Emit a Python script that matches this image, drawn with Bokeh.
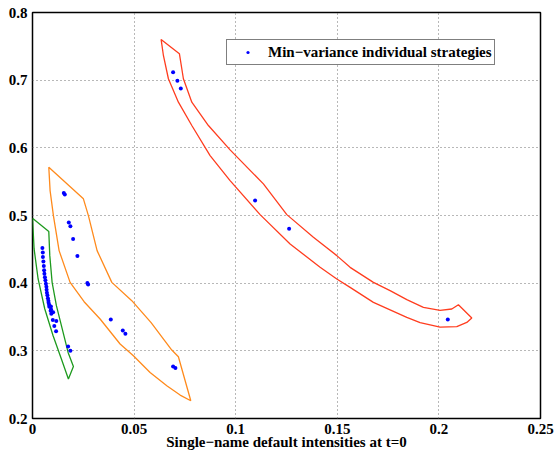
from bokeh.plotting import figure
from bokeh.models import Legend, LegendItem, Range1d, FixedTicker
from bokeh.embed import file_html
from bokeh.resources import INLINE

# ---------------- data ----------------
# cluster 1 (low intensities)
green_pts_x = [0.00487, 0.00507, 0.00512, 0.00536, 0.00556, 0.00571, 0.00586, 0.00610,
               0.00635, 0.00659, 0.00684, 0.00694, 0.00709, 0.00733, 0.00758, 0.00782,
               0.00792, 0.00817, 0.00827, 0.00906, 0.00915, 0.00891, 0.01014, 0.00925,
               0.00999, 0.01171, 0.01073, 0.01161, 0.01752, 0.01865]
green_pts_y = [0.4518, 0.4454, 0.4385, 0.4321, 0.4254, 0.4192, 0.4138, 0.4086,
               0.4044, 0.3993, 0.3948, 0.3904, 0.3859, 0.3822, 0.3778, 0.3741,
               0.3712, 0.3682, 0.3652, 0.3657, 0.3612, 0.3593, 0.3571, 0.3549,
               0.3456, 0.3442, 0.3367, 0.3290, 0.3065, 0.3001]
# cluster 2 (medium intensities)
orange_pts_x = [0.01540, 0.01590, 0.01786, 0.01865, 0.01998, 0.02210, 0.02702,
                0.02736, 0.03853, 0.04444, 0.04572, 0.06919, 0.07033]
orange_pts_y = [0.5334, 0.5309, 0.4895, 0.4840, 0.4654, 0.4402, 0.4003,
                0.3982, 0.3464, 0.3302, 0.3253, 0.2769, 0.2746]
# cluster 3 (high intensities)
red_pts_x = [0.06919, 0.07131, 0.07298, 0.10955, 0.12628, 0.20438]
red_pts_y = [0.7118, 0.6991, 0.6877, 0.5220, 0.4806, 0.3464]

# hand-drawn cluster outlines
green_outline_x = [0.0, 0.00802, 0.00851, 0.00965, 0.01176, 0.01506, 0.01752, 0.02013,
                   0.01767, 0.01422, 0.01014, 0.00605, 0.00276, 0.00079]
green_outline_y = [0.4959, 0.4762, 0.4407, 0.4012, 0.3667, 0.3272, 0.2976, 0.2769,
                   0.2583, 0.2879, 0.3223, 0.3618, 0.4062, 0.4506]
orange_outline_x = [0.00802, 0.02505, 0.02751, 0.03179, 0.03903, 0.04887, 0.05837,
                    0.06855, 0.07180, 0.07790, 0.07264, 0.06609, 0.05787, 0.04966,
                    0.04311, 0.03327, 0.02539, 0.01850, 0.01309, 0.01029, 0.00866]
orange_outline_y = [0.5713, 0.5246, 0.4999, 0.4481, 0.4012, 0.3741, 0.3416,
                    0.3012, 0.2913, 0.2262, 0.2346, 0.2484, 0.2680, 0.2928,
                    0.3101, 0.3470, 0.3726, 0.4012, 0.4481, 0.4999, 0.5368]
red_outline_x = [0.06329, 0.07229, 0.07426, 0.07840, 0.08657, 0.09724, 0.11363, 0.12515,
                 0.13824, 0.14975, 0.15630, 0.16777, 0.17598, 0.18420, 0.19237, 0.20059,
                 0.20635, 0.20960, 0.21619, 0.21373, 0.20881, 0.20059, 0.19075, 0.18420,
                 0.16777, 0.15630, 0.14975, 0.14154, 0.12677, 0.11201, 0.09724, 0.08740,
                 0.07840, 0.07180, 0.06688, 0.06442]
red_outline_y = [0.7602, 0.7391, 0.7021, 0.6675, 0.6330, 0.5970, 0.5467, 0.5013,
                 0.4678, 0.4407, 0.4234, 0.4012, 0.3889, 0.3756, 0.3642, 0.3598,
                 0.3618, 0.3682, 0.3485, 0.3420, 0.3357, 0.3349, 0.3416, 0.3494,
                 0.3716, 0.3938, 0.4062, 0.4234, 0.4580, 0.5013, 0.5516, 0.5886,
                 0.6330, 0.6675, 0.7021, 0.7365]

x_ticks = [0, 0.05, 0.1, 0.15, 0.2, 0.25]
x_tick_labels = ["0", "0.05", "0.1", "0.15", "0.2", "0.25"]
y_ticks = [0.2, 0.3, 0.4, 0.5, 0.6, 0.7, 0.8]
y_tick_labels = ["0.2", "0.3", "0.4", "0.5", "0.6", "0.7", "0.8"]
x_axis_label = "Single\u2212name default intensities at t=0"
legend_label = "Min\u2212variance individual strategies"

outline_colors = ["#1e9a1e", "#ff8a1c", "#ff3d1f"]
FONT = "Liberation Serif"

# ---------------- figure ----------------
p = figure(width=554, height=454, output_backend="svg", toolbar_location=None,
           x_range=Range1d(0, 0.25), y_range=Range1d(0.2, 0.8),
           min_border_left=32, min_border_right=14, min_border_top=12,
           min_border_bottom=36)
p.background_fill_color = "white"
p.border_fill_color = "white"
p.outline_line_color = "black"
p.outline_line_width = 1.5

xt = FixedTicker(ticks=x_ticks)
yt = FixedTicker(ticks=y_ticks)
p.xaxis.ticker = xt
p.yaxis.ticker = yt
p.xgrid.ticker = xt
p.ygrid.ticker = yt
p.xaxis.major_label_overrides = dict(zip(x_ticks, x_tick_labels))
p.yaxis.major_label_overrides = dict(zip(y_ticks, y_tick_labels))
for ax in (p.xaxis, p.yaxis):
    ax.axis_line_color = None
    ax.major_tick_in = 0
    ax.major_tick_out = 0
    ax.minor_tick_in = 0
    ax.minor_tick_out = 0
    ax.major_label_text_font = FONT
    ax.major_label_text_font_style = "bold"
    ax.major_label_text_font_size = "15px"
    ax.major_label_text_color = "black"
p.yaxis.major_label_standoff = 5
p.xaxis.major_label_standoff = 5
p.xaxis.axis_label = x_axis_label
p.xaxis.axis_label_text_font = FONT
p.xaxis.axis_label_text_font_style = "bold"
p.xaxis.axis_label_text_font_size = "15px"
p.xaxis.axis_label_text_color = "black"
p.xaxis.axis_label_standoff = -3

p.grid.grid_line_color = "#707070"
p.grid.grid_line_dash = "1 3"
p.grid.grid_line_width = 1

p.patches(xs=[green_outline_x, orange_outline_x, red_outline_x],
          ys=[green_outline_y, orange_outline_y, red_outline_y],
          fill_color=None, line_color=outline_colors, line_width=1.3)

pts_x = green_pts_x + orange_pts_x + red_pts_x
pts_y = green_pts_y + orange_pts_y + red_pts_y
r = p.scatter(pts_x, pts_y, size=4, color="#0000ff", line_color=None)

legend = Legend(items=[LegendItem(label=legend_label, renderers=[r])],
                location=(194, 353), margin=0, padding=2, spacing=0,
                glyph_width=37, glyph_height=8, label_standoff=2, label_height=20,
                label_text_font=FONT, label_text_font_style="bold",
                label_text_font_size="15px", label_text_color="black",
                border_line_color="black", border_line_width=1.5,
                background_fill_color="white", background_fill_alpha=1)
p.add_layout(legend)

open("out.html", "w").write(file_html(p, INLINE))
